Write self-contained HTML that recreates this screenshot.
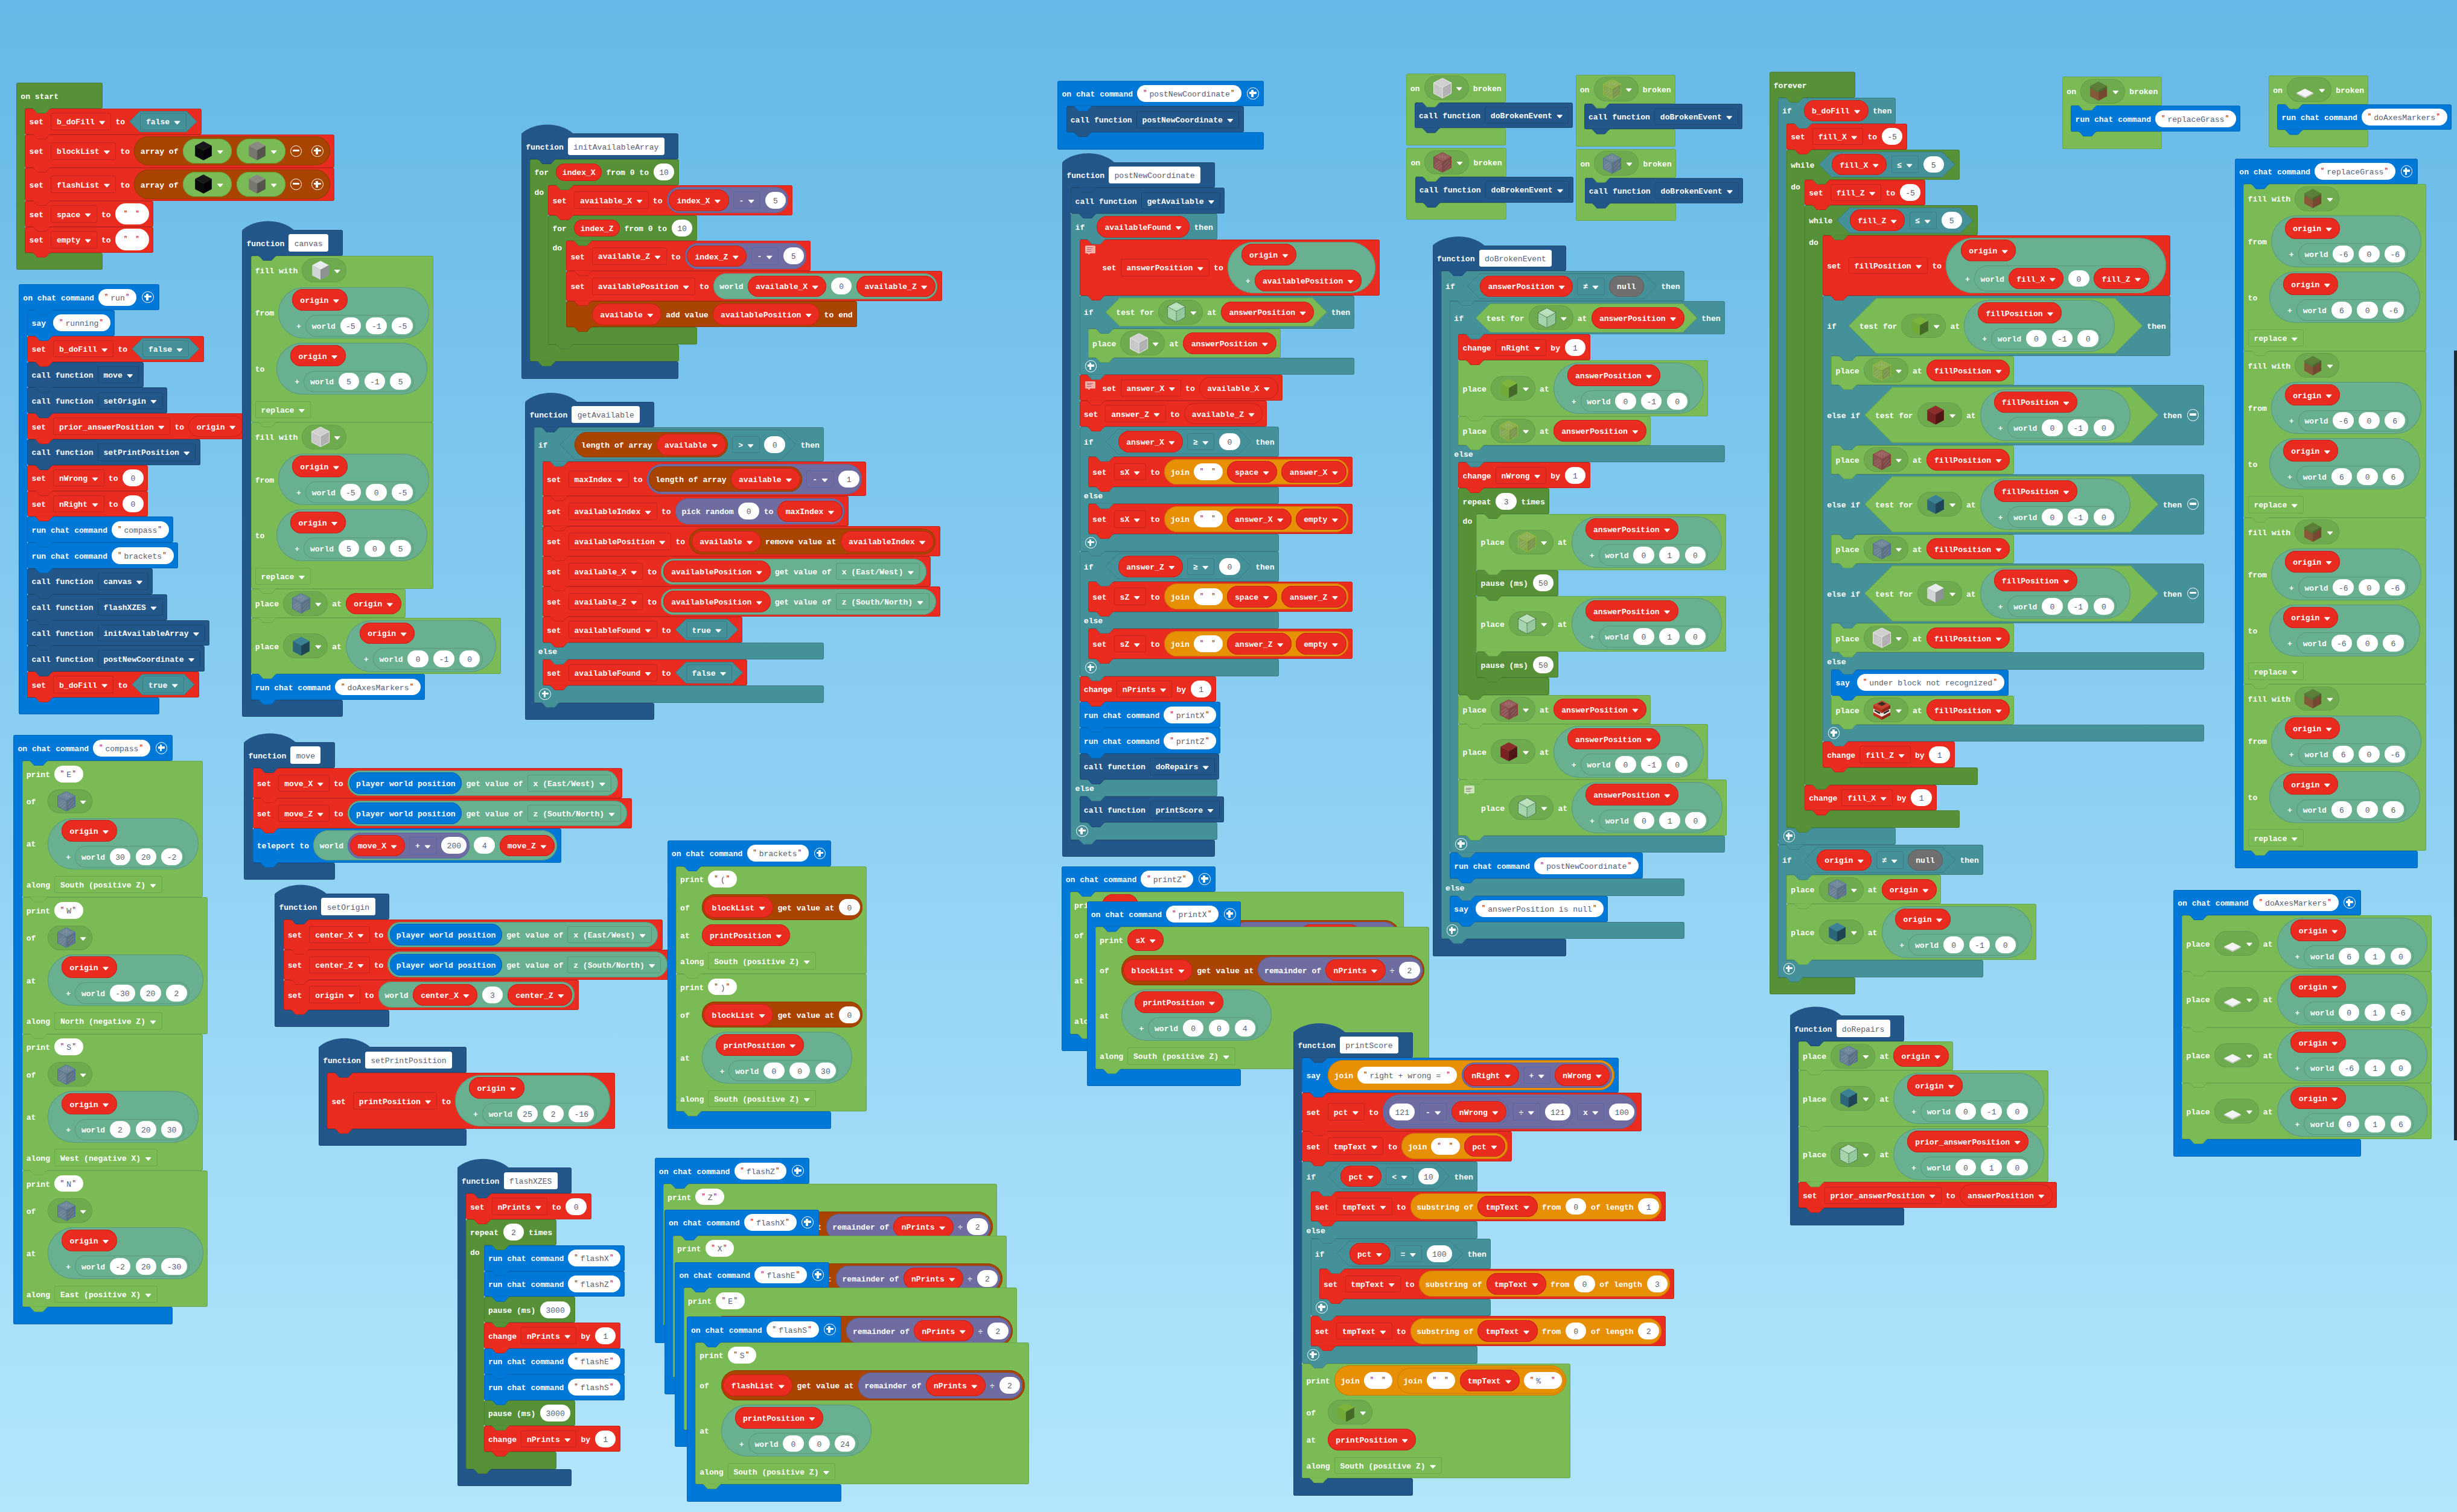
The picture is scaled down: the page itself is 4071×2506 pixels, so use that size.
<!DOCTYPE html><html><head><meta charset="utf-8"><title>MakeCode blocks</title><style>
*{box-sizing:border-box}
html,body{margin:0;padding:0}
#ws{position:relative;width:4071px;height:2506px;overflow:hidden;background:linear-gradient(#65b8e7,#b3e6fd);font:700 13.07px/1 "Liberation Mono",monospace;color:#fff}
.st{position:absolute;isolation:isolate}
.t{white-space:pre;display:block;flex:none;padding-top:3.2px}
.t.m{min-width:28.53px}
i{font-style:normal;display:block;flex:none}
span{flex:none}
/* colours */
.cv{--c:#ea2b1f;--d:#c4241a}
.cl{--c:#569138;--d:#4a7d30}
.cg{--c:#45919a;--d:#3b7c84}
.cp{--c:#0078d7;--d:#0067b9}
.cb{--c:#7abb55;--d:#69a549;--k:#6eaa4e}
.co{--c:#69b090;--d:#5a987c}
.cm{--c:#6e6ca0;--d:#5b66a2}
.ca{--c:#a94400;--d:#8f3a00}
.ct{--c:#e89005;--d:#c67b04}
.cf{--c:#235789;--d:#1d4a75}
/* statement block */
.b{position:relative;width:max-content;background:var(--c);border-radius:3.57px;box-shadow:inset 0 0 0 1px var(--d)}
.b::before,.nd,.c.nx::before{content:"";position:absolute;left:10.7px;top:100%;width:32.1px;height:8.13px;background:var(--d);clip-path:polygon(2.2px 0,31.2px 0,31.2px 1px,30.8px 1px,29.9px 1.3px,29.1px 2px,24.3px 7.3px,23.5px 7.9px,22.5px 8.13px,10.8px 8.13px,9.8px 7.9px,9px 7.3px,4.3px 2px,3.5px 1.3px,2.6px 1px,2.2px 1px);z-index:2}
.b::after,.nt,.c.nx::after{content:"";position:absolute;left:10.7px;top:100%;margin-top:-1px;width:32.1px;height:8.13px;background:var(--c);clip-path:polygon(2.2px 0,31.2px 0,31.2px 1px,30.8px 1px,29.9px 1.3px,29.1px 2px,24.3px 7.3px,23.5px 7.9px,22.5px 8.13px,10.8px 8.13px,9.8px 7.9px,9px 7.3px,4.3px 2px,3.5px 1.3px,2.6px 1px,2.2px 1px);z-index:2}
.r{display:flex;align-items:center;gap:7.13px;padding:3.57px 7.13px;min-height:42.8px;position:relative}
/* C blocks */
.c{position:relative;display:flex;flex-direction:column;width:max-content;min-width:142.67px}
.c>.r{background:var(--c);border-radius:3.57px;box-shadow:inset 0 0 0 1px var(--d)}
.c>.r.ns{align-self:flex-start}
.c>.r.e,.c>.r.f{min-height:28.53px;padding-top:0;padding-bottom:0}
.c>.r>.nt,.c>.r>.nd{left:24.97px}
.c>.ss{position:relative;margin-left:14.27px;width:0;min-height:21.4px;display:flex;flex-direction:column;align-items:flex-start}
.c>.ss::before{content:"";position:absolute;left:-14.27px;top:-4px;bottom:-4px;width:14.27px;background:var(--c);box-shadow:inset 1px 0 0 var(--d);z-index:1}
.c.do>.ss{margin-left:29.96px}
.c.do>.ss::before{left:-29.96px;width:29.96px}
.c.do>.r>.nt,.c.do>.r>.nd{left:40.66px}
.dl{position:absolute;left:-22.83px;top:6px}
.c.fn>.r.fnr{padding-right:23.6px}
.c.fn::before{content:"";position:absolute;left:0;top:-19.6px;width:85.6px;height:24px;background:var(--c);clip-path:path("M0 19.6c22.3-19.6 63.3-19.6 85.6 0V24H0z");z-index:1}
.fx{display:flex;align-items:center;height:28.53px;padding:3.2px 9.3px 0;background:#fff;border-radius:3.57px;color:#575e75;font-weight:400}
/* fields */
.a{width:10.7px;height:10.7px;background:#fff;clip-path:polygon(10% 28%,90% 28%,93.5% 30.5%,94% 35%,57% 78%,50% 81.5%,43% 78%,6% 35%,6.5% 30.5%)}
.dd{display:flex;align-items:center;height:28.53px;padding:3.2px 9.8px 0;gap:7.13px;border-radius:3.57px;box-shadow:inset 0 0 0 1px var(--d);white-space:pre}
.n{display:flex;align-items:center;justify-content:center;margin:0 .65px;min-width:34.4px;height:27.9px;padding:3.2px 9.3px 0;border-radius:99px;background:#fff;color:#575e75;font-weight:400;white-space:pre}
.q{display:flex;align-items:center;height:27.9px;padding:3.2px 13px 0 10.5px;border-radius:99px;background:#fff;color:#575e75;font-weight:400;white-space:pre}
.q>i{color:#b3282d;font-size:10px;width:4.5px;position:relative;top:-1.5px;left:-.5px;overflow:visible;font-weight:700}
.q>i:first-child{margin-right:5.25px}
.q>i:last-child{margin-left:2px}
.q.qb{height:35.67px;padding:3.2px 17.75px 0 14.75px}
.q>b{font-weight:400;display:block}
.g{display:flex;align-items:center;height:35.67px;padding:3.2px 13.3px 0;gap:7.13px;border-radius:99px;background:#ea2b1f;box-shadow:inset 0 0 0 1px #c4241a;white-space:pre}
.g.s{height:28.53px;padding:3.2px 10.7px 0}
.g.go{box-shadow:inset 0 0 0 1px #c4241a}
.p{display:flex;align-items:center;width:74px;height:40.9px;padding-left:14.1px;gap:6.7px;border-radius:99px;background:var(--k,#6eaa4e);box-shadow:inset 0 0 0 1px #659e47}
.p.sh{width:81.75px;padding-left:18px;background:#7abb55;box-shadow:inset 0 0 0 1px #69a549}
.cu{width:32.1px;height:32.1px;display:block;flex:none}
/* reporters */
.v{display:flex;align-items:center;gap:7.13px;min-height:35.67px;padding:0 10.7px;border-radius:99px;background:var(--c);box-shadow:inset 0 0 0 1px var(--d);white-space:pre}
.v:not(.nl):not(.pw){padding-top:3.57px!important;padding-bottom:3.57px!important}
.v.nl{--c:#6f6f6f;--d:#5e5e5e;padding:3.2px 13.3px 0}
.v.pw{padding:3.2px 10.7px 0}
.h{position:relative;isolation:isolate;display:flex;align-items:center;gap:7.13px;--h:35.67px;height:var(--h);background:var(--d);clip-path:polygon(calc(var(--h)/2) 0,calc(100% - var(--h)/2) 0,100% 50%,calc(100% - var(--h)/2) 100%,calc(var(--h)/2) 100%,0 50%)}
.h::before{content:"";position:absolute;inset:1px;z-index:-1;background:var(--c);clip-path:polygon(calc(var(--h)/2 - 1px) 0,calc(100% - var(--h)/2 + 1px) 0,100% 50%,calc(100% - var(--h)/2 + 1px) 100%,calc(var(--h)/2 - 1px) 100%,0 50%)}
.pa{display:flex;flex-direction:column;gap:7.13px;border-radius:99px;background:var(--c);box-shadow:inset 0 0 0 1px var(--d)}
.pr{display:flex;align-items:center;gap:7.13px}
.pr+.pr{margin-left:7px}
/* icons */
.pl{position:relative;width:19.6px;height:19.6px;margin:0 1.7px;border:1.9px solid #fff;border-radius:50%}
.pl::before{content:"";position:absolute;left:3.1px;right:3.1px;top:6.1px;height:3.6px;background:#fff;border-radius:1px}
.pl:not(.mi)::after{content:"";position:absolute;top:3.1px;bottom:3.1px;left:6.1px;width:3.6px;background:#fff;border-radius:1px}
.cmt{width:23.2px;height:16px;align-self:flex-start;margin-top:6.6px;position:relative}
.cmt::before{content:"";position:absolute;left:2px;top:0;width:17.5px;height:12.5px;border-radius:1.5px;background:linear-gradient(rgba(100,40,70,.55),rgba(100,40,70,.55)) 3.3px 3.2px/9.8px 1.2px no-repeat,linear-gradient(rgba(100,40,70,.55),rgba(100,40,70,.55)) 3.3px 5.8px/7.5px 1.2px no-repeat,linear-gradient(rgba(100,40,70,.55),rgba(100,40,70,.55)) 3.3px 8.3px/7.5px 1.2px no-repeat,rgba(255,255,255,.62)}
.cmt::after{content:"";position:absolute;left:6.2px;top:12.5px;width:4.4px;height:2.4px;background:rgba(255,255,255,.62);clip-path:polygon(0 0,100% 0,50% 100%)}
.dl{z-index:2}
.kblack{--t:#17171b;--l:#0a0a0e;--r:#020206}
.kgray{--t:#8b8a82;--l:#78776f;--r:#55544e}
.kwhite{--t:#e9ecec;--l:#d0d5d6;--r:#8d9293}
.kwglass{--t:#cfcfcf;--l:#c6c6c6;--r:#afadaf;--s:#ececec}
.kbgglass{--t:#71879a;--l:#6b7f92;--r:#5d7083;--s:#4b7596}
.kcyan{--t:#3b8197;--l:#2c667b;--r:#1f4454}
.klglass{--t:#8fb055;--l:#85a650;--r:#78964b;--s:#93c03c}
.klime{--t:#7db43c;--l:#70aa37;--r:#446928}
.kmint{--t:#b9dfbc;--l:#a3d3a9;--r:#90c79a;--s:#2e4d38;--da:1.6 1.2}
.krglass{--t:#98605f;--l:#8c5453;--r:#7d4948;--s:#923c3c}
.kred{--t:#8d2b2b;--l:#7a2121;--r:#501515}
#sb{position:absolute;left:4066.2px;top:581.2px;width:5px;height:1308.6px;background:#1f2b33}
.v>.pl{margin:0 .4px}
.v>.pl.mi+.pl{margin-left:8.1px}
.p>.a{margin-top:2.5px}
.c>.ss::after{content:"";position:absolute;left:0;top:0;bottom:0;width:4px;z-index:-1;background:linear-gradient(var(--c),var(--c)) top/100% 4px no-repeat,linear-gradient(var(--c),var(--c)) bottom/100% 4px no-repeat}
.kwglass,.kbgglass,.klglass,.krglass,.kmint{transform:scale(1.05);--ha:.3}
</style></head><body><div id="ws"><svg width="0" height="0" style="position:absolute"><symbol id="cb" viewBox="0 0 32 32"><path d="M16 .3 29.8 7.6 16 15 2.2 7.6z" style="fill:var(--t)"/><path d="M2.2 7.6 16 15v16.7L2.2 24.4z" style="fill:var(--l)"/><path d="M29.8 7.6 16 15v16.7l13.8-7.3z" style="fill:var(--r)"/><path d="M16 .3 29.8 7.6v16.8L16 31.7 2.2 24.4V7.6zM2.2 7.6 16 15l13.8-7.4M16 15v16.7" style="fill:none;stroke:var(--s,none);stroke-width:.9;stroke-dasharray:var(--da,none)"/><path d="M4 20l8-5.5M5 24l9-7M8 27.3l7-6.3M18 21l8-8M19 26l9-10M21.5 29l7-8M12 5.5v3M16 4v4.5M20 6.5v3" style="fill:none;stroke:#fff;stroke-width:.7;opacity:var(--ha,0)"/></symbol></svg>
<div class="st" style="left:27.2px;top:137.2px"><div class="c cl hat"><div class="r"><span class="t">on start</span><i class="nd"></i><i class="nt"></i></div><div class="ss"><div class="b cv"><div class="r"><span class="t m">set</span><span class="dd">b_doFill<i class="a"></i></span><span class="t">to</span><span class="h cg" style="padding:0 17.83px 0 17.83px"><span class="dd">false<i class="a"></i></span></span></div></div><div class="b cv"><div class="r"><span class="t m">set</span><span class="dd">blockList<i class="a"></i></span><span class="t">to</span><span class="v ca"><span class="t">array of</span><span class="p sh"><svg class="cu kblack"><use href="#cb"/></svg><i class="a"></i></span><span class="p sh"><svg class="cu kgray"><use href="#cb"/></svg><i class="a"></i></span><i class="pl mi"></i><i class="pl"></i></span></div></div><div class="b cv"><div class="r"><span class="t m">set</span><span class="dd">flashList<i class="a"></i></span><span class="t">to</span><span class="v ca"><span class="t">array of</span><span class="p sh"><svg class="cu kblack"><use href="#cb"/></svg><i class="a"></i></span><span class="p sh"><svg class="cu kgray"><use href="#cb"/></svg><i class="a"></i></span><i class="pl mi"></i><i class="pl"></i></span></div></div><div class="b cv"><div class="r"><span class="t m">set</span><span class="dd">space<i class="a"></i></span><span class="t">to</span><span class="q qb"><i>"</i><b> </b><i>"</i></span></div></div><div class="b cv"><div class="r"><span class="t m">set</span><span class="dd">empty<i class="a"></i></span><span class="t">to</span><span class="q qb"><i>"</i><b> </b><i>"</i></span></div></div></div><div class="r f"></div></div></div>
<div class="st" style="left:31.2px;top:471.2px"><div class="c cp hat"><div class="r"><span class="t">on chat command</span><span class="q"><i>"</i><b>run</b><i>"</i></span><i class="pl"></i><i class="nd"></i><i class="nt"></i></div><div class="ss"><div class="b cp"><div class="r"><span class="t m">say</span><span class="q"><i>"</i><b>running</b><i>"</i></span></div></div><div class="b cv"><div class="r"><span class="t m">set</span><span class="dd">b_doFill<i class="a"></i></span><span class="t">to</span><span class="h cg" style="padding:0 17.83px 0 17.83px"><span class="dd">false<i class="a"></i></span></span></div></div><div class="b cf"><div class="r"><span class="t m">call function</span><span class="dd">move<i class="a"></i></span></div></div><div class="b cf"><div class="r"><span class="t m">call function</span><span class="dd">setOrigin<i class="a"></i></span></div></div><div class="b cv"><div class="r"><span class="t m">set</span><span class="dd">prior_answerPosition<i class="a"></i></span><span class="t">to</span><span class="g go">origin<i class="a"></i></span></div></div><div class="b cf"><div class="r"><span class="t m">call function</span><span class="dd">setPrintPosition<i class="a"></i></span></div></div><div class="b cv"><div class="r"><span class="t m">set</span><span class="dd">nWrong<i class="a"></i></span><span class="t">to</span><span class="n">0</span></div></div><div class="b cv"><div class="r"><span class="t m">set</span><span class="dd">nRight<i class="a"></i></span><span class="t">to</span><span class="n">0</span></div></div><div class="b cp"><div class="r"><span class="t m">run chat command</span><span class="q"><i>"</i><b>compass</b><i>"</i></span></div></div><div class="b cp"><div class="r"><span class="t m">run chat command</span><span class="q"><i>"</i><b>brackets</b><i>"</i></span></div></div><div class="b cf"><div class="r"><span class="t m">call function</span><span class="dd">canvas<i class="a"></i></span></div></div><div class="b cf"><div class="r"><span class="t m">call function</span><span class="dd">flashXZES<i class="a"></i></span></div></div><div class="b cf"><div class="r"><span class="t m">call function</span><span class="dd">initAvailableArray<i class="a"></i></span></div></div><div class="b cf"><div class="r"><span class="t m">call function</span><span class="dd">postNewCoordinate<i class="a"></i></span></div></div><div class="b cv"><div class="r"><span class="t m">set</span><span class="dd">b_doFill<i class="a"></i></span><span class="t">to</span><span class="h cg" style="padding:0 17.83px 0 17.83px"><span class="dd">true<i class="a"></i></span></span></div></div></div><div class="r f"></div></div></div>
<div class="st" style="left:22.4px;top:1218.4px"><div class="c cp hat"><div class="r"><span class="t">on chat command</span><span class="q"><i>"</i><b>compass</b><i>"</i></span><i class="pl"></i><i class="nd"></i><i class="nt"></i></div><div class="ss"><div class="b cb"><div class="r"><span class="t m">print</span><span class="q"><i>"</i><b>E</b><i>"</i></span></div><div class="r"><span class="t m">of</span><span class="p"><svg class="cu kbgglass"><use href="#cb"/></svg><i class="a"></i></span></div><div class="r"><span class="t m">at</span><span class="pa co" style="padding:3.57px 22.81px"><span class="pr"><span class="g">origin<i class="a"></i></span></span><span class="pr"><span class="t">+</span><span class="v co" style="padding:0 3.57px 0 10.7px"><span class="t">world</span><span class="n">30</span><span class="n">20</span><span class="n">-2</span></span></span></span></div><div class="r"><span class="t m">along</span><span class="dd">South (positive Z)<i class="a"></i></span></div></div><div class="b cb"><div class="r"><span class="t m">print</span><span class="q"><i>"</i><b>W</b><i>"</i></span></div><div class="r"><span class="t m">of</span><span class="p"><svg class="cu kbgglass"><use href="#cb"/></svg><i class="a"></i></span></div><div class="r"><span class="t m">at</span><span class="pa co" style="padding:3.57px 22.81px"><span class="pr"><span class="g">origin<i class="a"></i></span></span><span class="pr"><span class="t">+</span><span class="v co" style="padding:0 3.57px 0 10.7px"><span class="t">world</span><span class="n">-30</span><span class="n">20</span><span class="n">2</span></span></span></span></div><div class="r"><span class="t m">along</span><span class="dd">North (negative Z)<i class="a"></i></span></div></div><div class="b cb"><div class="r"><span class="t m">print</span><span class="q"><i>"</i><b>S</b><i>"</i></span></div><div class="r"><span class="t m">of</span><span class="p"><svg class="cu kbgglass"><use href="#cb"/></svg><i class="a"></i></span></div><div class="r"><span class="t m">at</span><span class="pa co" style="padding:3.57px 22.81px"><span class="pr"><span class="g">origin<i class="a"></i></span></span><span class="pr"><span class="t">+</span><span class="v co" style="padding:0 3.57px 0 10.7px"><span class="t">world</span><span class="n">2</span><span class="n">20</span><span class="n">30</span></span></span></span></div><div class="r"><span class="t m">along</span><span class="dd">West (negative X)<i class="a"></i></span></div></div><div class="b cb"><div class="r"><span class="t m">print</span><span class="q"><i>"</i><b>N</b><i>"</i></span></div><div class="r"><span class="t m">of</span><span class="p"><svg class="cu kbgglass"><use href="#cb"/></svg><i class="a"></i></span></div><div class="r"><span class="t m">at</span><span class="pa co" style="padding:3.57px 22.81px"><span class="pr"><span class="g">origin<i class="a"></i></span></span><span class="pr"><span class="t">+</span><span class="v co" style="padding:0 3.57px 0 10.7px"><span class="t">world</span><span class="n">-2</span><span class="n">20</span><span class="n">-30</span></span></span></span></div><div class="r"><span class="t m">along</span><span class="dd">East (positive X)<i class="a"></i></span></div></div></div><div class="r f"></div></div></div>
<div class="st" style="left:401.4px;top:381.2px"><div class="c cf hat fn"><div class="r fnr"><span class="t">function</span><span class="fx">canvas</span><i class="nd"></i><i class="nt"></i></div><div class="ss"><div class="b cb"><div class="r"><span class="t m">fill with</span><span class="p"><svg class="cu kwhite"><use href="#cb"/></svg><i class="a"></i></span></div><div class="r"><span class="t m">from</span><span class="pa co" style="padding:3.57px 22.81px"><span class="pr"><span class="g">origin<i class="a"></i></span></span><span class="pr"><span class="t">+</span><span class="v co" style="padding:0 3.57px 0 10.7px"><span class="t">world</span><span class="n">-5</span><span class="n">-1</span><span class="n">-5</span></span></span></span></div><div class="r"><span class="t m">to</span><span class="pa co" style="padding:3.57px 22.81px"><span class="pr"><span class="g">origin<i class="a"></i></span></span><span class="pr"><span class="t">+</span><span class="v co" style="padding:0 3.57px 0 10.7px"><span class="t">world</span><span class="n">5</span><span class="n">-1</span><span class="n">5</span></span></span></span></div><div class="r"><span class="dd">replace<i class="a"></i></span></div></div><div class="b cb"><div class="r"><span class="t m">fill with</span><span class="p"><svg class="cu kwglass"><use href="#cb"/></svg><i class="a"></i></span></div><div class="r"><span class="t m">from</span><span class="pa co" style="padding:3.57px 22.81px"><span class="pr"><span class="g">origin<i class="a"></i></span></span><span class="pr"><span class="t">+</span><span class="v co" style="padding:0 3.57px 0 10.7px"><span class="t">world</span><span class="n">-5</span><span class="n">0</span><span class="n">-5</span></span></span></span></div><div class="r"><span class="t m">to</span><span class="pa co" style="padding:3.57px 22.81px"><span class="pr"><span class="g">origin<i class="a"></i></span></span><span class="pr"><span class="t">+</span><span class="v co" style="padding:0 3.57px 0 10.7px"><span class="t">world</span><span class="n">5</span><span class="n">0</span><span class="n">5</span></span></span></span></div><div class="r"><span class="dd">replace<i class="a"></i></span></div></div><div class="b cb"><div class="r"><span class="t m">place</span><span class="p"><svg class="cu kbgglass"><use href="#cb"/></svg><i class="a"></i></span><span class="t">at</span><span class="g">origin<i class="a"></i></span></div></div><div class="b cb"><div class="r"><span class="t m">place</span><span class="p"><svg class="cu kcyan"><use href="#cb"/></svg><i class="a"></i></span><span class="t">at</span><span class="pa co" style="padding:3.57px 22.81px"><span class="pr"><span class="g">origin<i class="a"></i></span></span><span class="pr"><span class="t">+</span><span class="v co" style="padding:0 3.57px 0 10.7px"><span class="t">world</span><span class="n">0</span><span class="n">-1</span><span class="n">0</span></span></span></span></div></div><div class="b cp"><div class="r"><span class="t m">run chat command</span><span class="q"><i>"</i><b>doAxesMarkers</b><i>"</i></span></div></div></div><div class="r f"></div></div></div>
<div class="st" style="left:404.4px;top:1230.3px"><div class="c cf hat fn"><div class="r fnr"><span class="t">function</span><span class="fx">move</span><i class="nd"></i><i class="nt"></i></div><div class="ss"><div class="b cv"><div class="r"><span class="t m">set</span><span class="dd">move_X<i class="a"></i></span><span class="t">to</span><span class="v co" style="padding:0 10.7px 0 3.57px"><span class="v cp pw">player world position</span><span class="t">get value of</span><span class="dd">x (East/West)<i class="a"></i></span></span></div></div><div class="b cv"><div class="r"><span class="t m">set</span><span class="dd">move_Z<i class="a"></i></span><span class="t">to</span><span class="v co" style="padding:0 10.7px 0 3.57px"><span class="v cp pw">player world position</span><span class="t">get value of</span><span class="dd">z (South/North)<i class="a"></i></span></span></div></div><div class="b cp"><div class="r"><span class="t m">teleport to</span><span class="v co" style="padding:0 3.57px 0 10.7px"><span class="t">world</span><span class="v cm" style="padding:0 3.57px 0 3.57px"><span class="g">move_X<i class="a"></i></span><span class="dd">+<i class="a"></i></span><span class="n">200</span></span><span class="n">4</span><span class="g">move_Z<i class="a"></i></span></span></div></div></div><div class="r f"></div></div></div>
<div class="st" style="left:455.4px;top:1481.2px"><div class="c cf hat fn"><div class="r fnr"><span class="t">function</span><span class="fx">setOrigin</span><i class="nd"></i><i class="nt"></i></div><div class="ss"><div class="b cv"><div class="r"><span class="t m">set</span><span class="dd">center_X<i class="a"></i></span><span class="t">to</span><span class="v co" style="padding:0 10.7px 0 3.57px"><span class="v cp pw">player world position</span><span class="t">get value of</span><span class="dd">x (East/West)<i class="a"></i></span></span></div></div><div class="b cv"><div class="r"><span class="t m">set</span><span class="dd">center_Z<i class="a"></i></span><span class="t">to</span><span class="v co" style="padding:0 10.7px 0 3.57px"><span class="v cp pw">player world position</span><span class="t">get value of</span><span class="dd">z (South/North)<i class="a"></i></span></span></div></div><div class="b cv"><div class="r"><span class="t m">set</span><span class="dd">origin<i class="a"></i></span><span class="t">to</span><span class="v co" style="padding:0 3.57px 0 10.7px"><span class="t">world</span><span class="g">center_X<i class="a"></i></span><span class="n">3</span><span class="g">center_Z<i class="a"></i></span></span></div></div></div><div class="r f"></div></div></div>
<div class="st" style="left:528px;top:1735.4px"><div class="c cf hat fn"><div class="r fnr"><span class="t">function</span><span class="fx">setPrintPosition</span><i class="nd"></i><i class="nt"></i></div><div class="ss"><div class="b cv"><div class="r"><span class="t m">set</span><span class="dd">printPosition<i class="a"></i></span><span class="t">to</span><span class="pa co" style="padding:3.57px 22.81px"><span class="pr"><span class="g">origin<i class="a"></i></span></span><span class="pr"><span class="t">+</span><span class="v co" style="padding:0 3.57px 0 10.7px"><span class="t">world</span><span class="n">25</span><span class="n">2</span><span class="n">-16</span></span></span></span></div></div></div><div class="r f"></div></div></div>
<div class="st" style="left:864.1px;top:221.2px"><div class="c cf hat fn"><div class="r fnr"><span class="t">function</span><span class="fx">initAvailableArray</span><i class="nd"></i><i class="nt"></i></div><div class="ss"><div class="c cl do nx"><div class="r"><span class="t m">for</span><span class="g s">index_X</span><span class="t">from 0 to</span><span class="n">10</span><i class="nd"></i><i class="nt"></i></div><div class="ss"><span class="dl">do</span><div class="b cv"><div class="r"><span class="t m">set</span><span class="dd">available_X<i class="a"></i></span><span class="t">to</span><span class="v cm" style="padding:0 3.57px 0 3.57px"><span class="g">index_X<i class="a"></i></span><span class="dd">-<i class="a"></i></span><span class="n">5</span></span></div></div><div class="c cl do nx"><div class="r"><span class="t m">for</span><span class="g s">index_Z</span><span class="t">from 0 to</span><span class="n">10</span><i class="nd"></i><i class="nt"></i></div><div class="ss"><span class="dl">do</span><div class="b cv"><div class="r"><span class="t m">set</span><span class="dd">available_Z<i class="a"></i></span><span class="t">to</span><span class="v cm" style="padding:0 3.57px 0 3.57px"><span class="g">index_Z<i class="a"></i></span><span class="dd">-<i class="a"></i></span><span class="n">5</span></span></div></div><div class="b cv"><div class="r"><span class="t m">set</span><span class="dd">availablePosition<i class="a"></i></span><span class="t">to</span><span class="v co" style="padding:0 3.57px 0 10.7px"><span class="t">world</span><span class="g">available_X<i class="a"></i></span><span class="n">0</span><span class="g">available_Z<i class="a"></i></span></span></div></div><div class="b ca"><div class="r"><span class="t m"></span><span class="g">available<i class="a"></i></span><span class="t">add value</span><span class="g">availablePosition<i class="a"></i></span><span class="t">to end</span></div></div></div><div class="r f"></div></div></div><div class="r f"></div></div></div><div class="r f"></div></div></div>
<div class="st" style="left:870.4px;top:665.6px"><div class="c cf hat fn"><div class="r fnr"><span class="t">function</span><span class="fx">getAvailable</span><i class="nd"></i><i class="nt"></i></div><div class="ss"><div class="c cg nx"><div class="r"><span class="t m">if</span><span class="h cg" style="--h:49.93px;padding:0 17.83px 0 24.97px"><span class="v ca" style="padding:0 3.57px 0 10.7px"><span class="t">length of array</span><span class="g">available<i class="a"></i></span></span><span class="dd">&gt;<i class="a"></i></span><span class="n">0</span></span><span class="t">then</span><i class="nd"></i><i class="nt"></i></div><div class="ss"><div class="b cv"><div class="r"><span class="t m">set</span><span class="dd">maxIndex<i class="a"></i></span><span class="t">to</span><span class="v cm" style="padding:0 3.57px 0 3.57px"><span class="v ca" style="padding:0 3.57px 0 10.7px"><span class="t">length of array</span><span class="g">available<i class="a"></i></span></span><span class="dd">-<i class="a"></i></span><span class="n">1</span></span></div></div><div class="b cv"><div class="r"><span class="t m">set</span><span class="dd">availableIndex<i class="a"></i></span><span class="t">to</span><span class="v cm" style="padding:0 3.57px 0 10.7px"><span class="t">pick random</span><span class="n">0</span><span class="t">to</span><span class="g">maxIndex<i class="a"></i></span></span></div></div><div class="b cv"><div class="r"><span class="t m">set</span><span class="dd">availablePosition<i class="a"></i></span><span class="t">to</span><span class="v ca" style="padding:0 3.57px 0 3.57px"><span class="g">available<i class="a"></i></span><span class="t">remove value at</span><span class="g">availableIndex<i class="a"></i></span></span></div></div><div class="b cv"><div class="r"><span class="t m">set</span><span class="dd">available_X<i class="a"></i></span><span class="t">to</span><span class="v co" style="padding:0 10.7px 0 3.57px"><span class="g">availablePosition<i class="a"></i></span><span class="t">get value of</span><span class="dd">x (East/West)<i class="a"></i></span></span></div></div><div class="b cv"><div class="r"><span class="t m">set</span><span class="dd">available_Z<i class="a"></i></span><span class="t">to</span><span class="v co" style="padding:0 10.7px 0 3.57px"><span class="g">availablePosition<i class="a"></i></span><span class="t">get value of</span><span class="dd">z (South/North)<i class="a"></i></span></span></div></div><div class="b cv"><div class="r"><span class="t m">set</span><span class="dd">availableFound<i class="a"></i></span><span class="t">to</span><span class="h cg" style="padding:0 17.83px 0 17.83px"><span class="dd">true<i class="a"></i></span></span></div></div></div><div class="r e"><span class="t">else</span><i class="nd"></i><i class="nt"></i></div><div class="ss"><div class="b cv"><div class="r"><span class="t m">set</span><span class="dd">availableFound<i class="a"></i></span><span class="t">to</span><span class="h cg" style="padding:0 17.83px 0 17.83px"><span class="dd">false<i class="a"></i></span></span></div></div></div><div class="r f"><i class="pl"></i></div></div></div><div class="r f"></div></div></div>
<div class="st" style="left:757.6px;top:1935.4px"><div class="c cf hat fn"><div class="r fnr"><span class="t">function</span><span class="fx">flashXZES</span><i class="nd"></i><i class="nt"></i></div><div class="ss"><div class="b cv"><div class="r"><span class="t m">set</span><span class="dd">nPrints<i class="a"></i></span><span class="t">to</span><span class="n">0</span></div></div><div class="c cl do nx"><div class="r"><span class="t m">repeat</span><span class="n">2</span><span class="t">times</span><i class="nd"></i><i class="nt"></i></div><div class="ss"><span class="dl">do</span><div class="b cp"><div class="r"><span class="t m">run chat command</span><span class="q"><i>"</i><b>flashX</b><i>"</i></span></div></div><div class="b cp"><div class="r"><span class="t m">run chat command</span><span class="q"><i>"</i><b>flashZ</b><i>"</i></span></div></div><div class="b cl"><div class="r"><span class="t m">pause (ms)</span><span class="n">3000</span></div></div><div class="b cv"><div class="r"><span class="t m">change</span><span class="dd">nPrints<i class="a"></i></span><span class="t">by</span><span class="n">1</span></div></div><div class="b cp"><div class="r"><span class="t m">run chat command</span><span class="q"><i>"</i><b>flashE</b><i>"</i></span></div></div><div class="b cp"><div class="r"><span class="t m">run chat command</span><span class="q"><i>"</i><b>flashS</b><i>"</i></span></div></div><div class="b cl"><div class="r"><span class="t m">pause (ms)</span><span class="n">3000</span></div></div><div class="b cv"><div class="r"><span class="t m">change</span><span class="dd">nPrints<i class="a"></i></span><span class="t">by</span><span class="n">1</span></div></div></div><div class="r f"></div></div></div><div class="r f"></div></div></div>
<div class="st" style="left:1105.7px;top:1393px"><div class="c cp hat"><div class="r"><span class="t">on chat command</span><span class="q"><i>"</i><b>brackets</b><i>"</i></span><i class="pl"></i><i class="nd"></i><i class="nt"></i></div><div class="ss"><div class="b cb"><div class="r"><span class="t m">print</span><span class="q"><i>"</i><b>(</b><i>"</i></span></div><div class="r"><span class="t m">of</span><span class="v ca" style="padding:0 3.57px 0 3.57px"><span class="g">blockList<i class="a"></i></span><span class="t">get value at</span><span class="n">0</span></span></div><div class="r"><span class="t m">at</span><span class="g">printPosition<i class="a"></i></span></div><div class="r"><span class="t m">along</span><span class="dd">South (positive Z)<i class="a"></i></span></div></div><div class="b cb"><div class="r"><span class="t m">print</span><span class="q"><i>"</i><b>)</b><i>"</i></span></div><div class="r"><span class="t m">of</span><span class="v ca" style="padding:0 3.57px 0 3.57px"><span class="g">blockList<i class="a"></i></span><span class="t">get value at</span><span class="n">0</span></span></div><div class="r"><span class="t m">at</span><span class="pa co" style="padding:3.57px 22.81px"><span class="pr"><span class="g">printPosition<i class="a"></i></span></span><span class="pr"><span class="t">+</span><span class="v co" style="padding:0 3.57px 0 10.7px"><span class="t">world</span><span class="n">0</span><span class="n">0</span><span class="n">30</span></span></span></span></div><div class="r"><span class="t m">along</span><span class="dd">South (positive Z)<i class="a"></i></span></div></div></div><div class="r f"></div></div></div>
<div class="st" style="left:1084.7px;top:1919.3px"><div class="c cp hat"><div class="r"><span class="t">on chat command</span><span class="q"><i>"</i><b>flashZ</b><i>"</i></span><i class="pl"></i><i class="nd"></i><i class="nt"></i></div><div class="ss"><div class="b cb"><div class="r"><span class="t m">print</span><span class="q"><i>"</i><b>Z</b><i>"</i></span></div><div class="r"><span class="t m">of</span><span class="v ca" style="padding:0 3.57px 0 3.57px"><span class="g">flashList<i class="a"></i></span><span class="t">get value at</span><span class="v cm" style="padding:0 3.57px 0 10.7px"><span class="t">remainder of</span><span class="g">nPrints<i class="a"></i></span><span class="t">÷</span><span class="n">2</span></span></span></div><div class="r"><span class="t m">at</span><span class="pa co" style="padding:3.57px 22.81px"><span class="pr"><span class="g">printPosition<i class="a"></i></span></span><span class="pr"><span class="t">+</span><span class="v co" style="padding:0 3.57px 0 10.7px"><span class="t">world</span><span class="n">0</span><span class="n">0</span><span class="n">4</span></span></span></span></div><div class="r"><span class="t m">along</span><span class="dd">South (positive Z)<i class="a"></i></span></div></div></div><div class="r f"></div></div></div>
<div class="st" style="left:1100.9px;top:2004.8px"><div class="c cp hat"><div class="r"><span class="t">on chat command</span><span class="q"><i>"</i><b>flashX</b><i>"</i></span><i class="pl"></i><i class="nd"></i><i class="nt"></i></div><div class="ss"><div class="b cb"><div class="r"><span class="t m">print</span><span class="q"><i>"</i><b>X</b><i>"</i></span></div><div class="r"><span class="t m">of</span><span class="v ca" style="padding:0 3.57px 0 3.57px"><span class="g">flashList<i class="a"></i></span><span class="t">get value at</span><span class="v cm" style="padding:0 3.57px 0 10.7px"><span class="t">remainder of</span><span class="g">nPrints<i class="a"></i></span><span class="t">÷</span><span class="n">2</span></span></span></div><div class="r"><span class="t m">at</span><span class="pa co" style="padding:3.57px 22.81px"><span class="pr"><span class="g">printPosition<i class="a"></i></span></span><span class="pr"><span class="t">+</span><span class="v co" style="padding:0 3.57px 0 10.7px"><span class="t">world</span><span class="n">0</span><span class="n">0</span><span class="n">4</span></span></span></span></div><div class="r"><span class="t m">along</span><span class="dd">South (positive Z)<i class="a"></i></span></div></div></div><div class="r f"></div></div></div>
<div class="st" style="left:1118.4px;top:2091.5px"><div class="c cp hat"><div class="r"><span class="t">on chat command</span><span class="q"><i>"</i><b>flashE</b><i>"</i></span><i class="pl"></i><i class="nd"></i><i class="nt"></i></div><div class="ss"><div class="b cb"><div class="r"><span class="t m">print</span><span class="q"><i>"</i><b>E</b><i>"</i></span></div><div class="r"><span class="t m">of</span><span class="v ca" style="padding:0 3.57px 0 3.57px"><span class="g">flashList<i class="a"></i></span><span class="t">get value at</span><span class="v cm" style="padding:0 3.57px 0 10.7px"><span class="t">remainder of</span><span class="g">nPrints<i class="a"></i></span><span class="t">÷</span><span class="n">2</span></span></span></div><div class="r"><span class="t m">at</span><span class="pa co" style="padding:3.57px 22.81px"><span class="pr"><span class="g">printPosition<i class="a"></i></span></span><span class="pr"><span class="t">+</span><span class="v co" style="padding:0 3.57px 0 10.7px"><span class="t">world</span><span class="n">0</span><span class="n">0</span><span class="n">24</span></span></span></span></div><div class="r"><span class="t m">along</span><span class="dd">South (positive Z)<i class="a"></i></span></div></div></div><div class="r f"></div></div></div>
<div class="st" style="left:1137.9px;top:2182.1px"><div class="c cp hat"><div class="r"><span class="t">on chat command</span><span class="q"><i>"</i><b>flashS</b><i>"</i></span><i class="pl"></i><i class="nd"></i><i class="nt"></i></div><div class="ss"><div class="b cb"><div class="r"><span class="t m">print</span><span class="q"><i>"</i><b>S</b><i>"</i></span></div><div class="r"><span class="t m">of</span><span class="v ca" style="padding:0 3.57px 0 3.57px"><span class="g">flashList<i class="a"></i></span><span class="t">get value at</span><span class="v cm" style="padding:0 3.57px 0 10.7px"><span class="t">remainder of</span><span class="g">nPrints<i class="a"></i></span><span class="t">÷</span><span class="n">2</span></span></span></div><div class="r"><span class="t m">at</span><span class="pa co" style="padding:3.57px 22.81px"><span class="pr"><span class="g">printPosition<i class="a"></i></span></span><span class="pr"><span class="t">+</span><span class="v co" style="padding:0 3.57px 0 10.7px"><span class="t">world</span><span class="n">0</span><span class="n">0</span><span class="n">24</span></span></span></span></div><div class="r"><span class="t m">along</span><span class="dd">South (positive Z)<i class="a"></i></span></div></div></div><div class="r f"></div></div></div>
<div class="st" style="left:1752.4px;top:133.6px"><div class="c cp hat"><div class="r"><span class="t">on chat command</span><span class="q"><i>"</i><b>postNewCoordinate</b><i>"</i></span><i class="pl"></i><i class="nd"></i><i class="nt"></i></div><div class="ss"><div class="b cf"><div class="r"><span class="t m">call function</span><span class="dd">postNewCoordinate<i class="a"></i></span></div></div></div><div class="r f"></div></div></div>
<div class="st" style="left:1760.2px;top:268.7px"><div class="c cf hat fn"><div class="r fnr"><span class="t">function</span><span class="fx">postNewCoordinate</span><i class="nd"></i><i class="nt"></i></div><div class="ss"><div class="b cf"><div class="r"><span class="t m">call function</span><span class="dd">getAvailable<i class="a"></i></span></div></div><div class="c cg nx"><div class="r"><span class="t m">if</span><span class="g">availableFound<i class="a"></i></span><span class="t">then</span><i class="nd"></i><i class="nt"></i></div><div class="ss"><div class="b cv"><div class="r"><i class="cmt"></i><span class="t">set</span><span class="dd">answerPosition<i class="a"></i></span><span class="t">to</span><span class="pa co" style="padding:3.57px 22.81px"><span class="pr"><span class="g">origin<i class="a"></i></span></span><span class="pr"><span class="t">+</span><span class="g">availablePosition<i class="a"></i></span></span></span></div></div><div class="c cg nx"><div class="r"><span class="t m">if</span><span class="h cb" style="--h:48.03px;padding:0 21.4px 0 17.83px"><span class="t">test for</span><span class="p"><svg class="cu kmint"><use href="#cb"/></svg><i class="a"></i></span><span class="t">at</span><span class="g">answerPosition<i class="a"></i></span></span><span class="t">then</span><i class="nd"></i><i class="nt"></i></div><div class="ss"><div class="b cb"><div class="r"><span class="t m">place</span><span class="p"><svg class="cu kwglass"><use href="#cb"/></svg><i class="a"></i></span><span class="t">at</span><span class="g">answerPosition<i class="a"></i></span></div></div></div><div class="r f"><i class="pl"></i></div></div><div class="b cv"><div class="r"><i class="cmt"></i><span class="t">set</span><span class="dd">answer_X<i class="a"></i></span><span class="t">to</span><span class="g go">available_X<i class="a"></i></span></div></div><div class="b cv"><div class="r"><span class="t m">set</span><span class="dd">answer_Z<i class="a"></i></span><span class="t">to</span><span class="g go">available_Z<i class="a"></i></span></div></div><div class="c cg nx"><div class="r"><span class="t m">if</span><span class="h cg" style="--h:42.8px;padding:0 17.83px 0 21.4px"><span class="g">answer_X<i class="a"></i></span><span class="dd">≥<i class="a"></i></span><span class="n">0</span></span><span class="t">then</span><i class="nd"></i><i class="nt"></i></div><div class="ss"><div class="b cv"><div class="r"><span class="t m">set</span><span class="dd">sX<i class="a"></i></span><span class="t">to</span><span class="v ct" style="padding:0 3.57px 0 10.7px"><span class="t">join</span><span class="q"><i>"</i><b> </b><i>"</i></span><span class="g">space<i class="a"></i></span><span class="g">answer_X<i class="a"></i></span></span></div></div></div><div class="r e"><span class="t">else</span><i class="nd"></i><i class="nt"></i></div><div class="ss"><div class="b cv"><div class="r"><span class="t m">set</span><span class="dd">sX<i class="a"></i></span><span class="t">to</span><span class="v ct" style="padding:0 3.57px 0 10.7px"><span class="t">join</span><span class="q"><i>"</i><b> </b><i>"</i></span><span class="g">answer_X<i class="a"></i></span><span class="g">empty<i class="a"></i></span></span></div></div></div><div class="r f"><i class="pl"></i></div></div><div class="c cg nx"><div class="r"><span class="t m">if</span><span class="h cg" style="--h:42.8px;padding:0 17.83px 0 21.4px"><span class="g">answer_Z<i class="a"></i></span><span class="dd">≥<i class="a"></i></span><span class="n">0</span></span><span class="t">then</span><i class="nd"></i><i class="nt"></i></div><div class="ss"><div class="b cv"><div class="r"><span class="t m">set</span><span class="dd">sZ<i class="a"></i></span><span class="t">to</span><span class="v ct" style="padding:0 3.57px 0 10.7px"><span class="t">join</span><span class="q"><i>"</i><b> </b><i>"</i></span><span class="g">space<i class="a"></i></span><span class="g">answer_Z<i class="a"></i></span></span></div></div></div><div class="r e"><span class="t">else</span><i class="nd"></i><i class="nt"></i></div><div class="ss"><div class="b cv"><div class="r"><span class="t m">set</span><span class="dd">sZ<i class="a"></i></span><span class="t">to</span><span class="v ct" style="padding:0 3.57px 0 10.7px"><span class="t">join</span><span class="q"><i>"</i><b> </b><i>"</i></span><span class="g">answer_Z<i class="a"></i></span><span class="g">empty<i class="a"></i></span></span></div></div></div><div class="r f"><i class="pl"></i></div></div><div class="b cv"><div class="r"><span class="t m">change</span><span class="dd">nPrints<i class="a"></i></span><span class="t">by</span><span class="n">1</span></div></div><div class="b cp"><div class="r"><span class="t m">run chat command</span><span class="q"><i>"</i><b>printX</b><i>"</i></span></div></div><div class="b cp"><div class="r"><span class="t m">run chat command</span><span class="q"><i>"</i><b>printZ</b><i>"</i></span></div></div><div class="b cf"><div class="r"><span class="t m">call function</span><span class="dd">doRepairs<i class="a"></i></span></div></div></div><div class="r e"><span class="t">else</span><i class="nd"></i><i class="nt"></i></div><div class="ss"><div class="b cf"><div class="r"><span class="t m">call function</span><span class="dd">printScore<i class="a"></i></span></div></div></div><div class="r f"><i class="pl"></i></div></div></div><div class="r f"></div></div></div>
<div class="st" style="left:1758.6px;top:1435.5px"><div class="c cp hat"><div class="r"><span class="t">on chat command</span><span class="q"><i>"</i><b>printZ</b><i>"</i></span><i class="pl"></i><i class="nd"></i><i class="nt"></i></div><div class="ss"><div class="b cb"><div class="r"><span class="t m">print</span><span class="g">sZ<i class="a"></i></span></div><div class="r"><span class="t m">of</span><span class="v ca" style="padding:0 3.57px 0 3.57px"><span class="g">blockList<i class="a"></i></span><span class="t">get value at</span><span class="v cm" style="padding:0 3.57px 0 10.7px"><span class="t">remainder of</span><span class="g">nPrints<i class="a"></i></span><span class="t">÷</span><span class="n">2</span></span></span></div><div class="r"><span class="t m">at</span><span class="pa co" style="padding:3.57px 22.81px"><span class="pr"><span class="g">printPosition<i class="a"></i></span></span><span class="pr"><span class="t">+</span><span class="v co" style="padding:0 3.57px 0 10.7px"><span class="t">world</span><span class="n">0</span><span class="n">0</span><span class="n">4</span></span></span></span></div><div class="r"><span class="t m">along</span><span class="dd">South (positive Z)<i class="a"></i></span></div></div></div><div class="r f"></div></div></div>
<div class="st" style="left:1800.5px;top:1493.6px"><div class="c cp hat"><div class="r"><span class="t">on chat command</span><span class="q"><i>"</i><b>printX</b><i>"</i></span><i class="pl"></i><i class="nd"></i><i class="nt"></i></div><div class="ss"><div class="b cb"><div class="r"><span class="t m">print</span><span class="g">sX<i class="a"></i></span></div><div class="r"><span class="t m">of</span><span class="v ca" style="padding:0 3.57px 0 3.57px"><span class="g">blockList<i class="a"></i></span><span class="t">get value at</span><span class="v cm" style="padding:0 3.57px 0 10.7px"><span class="t">remainder of</span><span class="g">nPrints<i class="a"></i></span><span class="t">÷</span><span class="n">2</span></span></span></div><div class="r"><span class="t m">at</span><span class="pa co" style="padding:3.57px 22.81px"><span class="pr"><span class="g">printPosition<i class="a"></i></span></span><span class="pr"><span class="t">+</span><span class="v co" style="padding:0 3.57px 0 10.7px"><span class="t">world</span><span class="n">0</span><span class="n">0</span><span class="n">4</span></span></span></span></div><div class="r"><span class="t m">along</span><span class="dd">South (positive Z)<i class="a"></i></span></div></div></div><div class="r f"></div></div></div>
<div class="st" style="left:2143px;top:1710.7px"><div class="c cf hat fn"><div class="r fnr"><span class="t">function</span><span class="fx">printScore</span><i class="nd"></i><i class="nt"></i></div><div class="ss"><div class="b cp"><div class="r"><span class="t m">say</span><span class="v ct" style="padding:0 3.57px 0 10.7px"><span class="t">join</span><span class="q"><i>"</i><b>right + wrong = </b><i>"</i></span><span class="v cm" style="padding:0 3.57px 0 3.57px"><span class="g">nRight<i class="a"></i></span><span class="dd">+<i class="a"></i></span><span class="g">nWrong<i class="a"></i></span></span></span></div></div><div class="b cv"><div class="r"><span class="t m">set</span><span class="dd">pct<i class="a"></i></span><span class="t">to</span><span class="v cm" style="padding:0 3.57px 0 3.57px"><span class="v cm" style="padding:0 3.57px 0 3.57px"><span class="v cm" style="padding:0 3.57px 0 3.57px"><span class="n">121</span><span class="dd">-<i class="a"></i></span><span class="g">nWrong<i class="a"></i></span></span><span class="dd">÷<i class="a"></i></span><span class="n">121</span></span><span class="dd">x<i class="a"></i></span><span class="n">100</span></span></div></div><div class="b cv"><div class="r"><span class="t m">set</span><span class="dd">tmpText<i class="a"></i></span><span class="t">to</span><span class="v ct" style="padding:0 3.57px 0 10.7px"><span class="t">join</span><span class="q"><i>"</i><b> </b><i>"</i></span><span class="g">pct<i class="a"></i></span></span></div></div><div class="c cg nx"><div class="r"><span class="t m">if</span><span class="h cg" style="--h:42.8px;padding:0 17.83px 0 21.4px"><span class="g">pct<i class="a"></i></span><span class="dd">&lt;<i class="a"></i></span><span class="n">10</span></span><span class="t">then</span><i class="nd"></i><i class="nt"></i></div><div class="ss"><div class="b cv"><div class="r"><span class="t m">set</span><span class="dd">tmpText<i class="a"></i></span><span class="t">to</span><span class="v ct" style="padding:0 3.57px 0 10.7px"><span class="t">substring of</span><span class="g">tmpText<i class="a"></i></span><span class="t">from</span><span class="n">0</span><span class="t">of length</span><span class="n">1</span></span></div></div></div><div class="r e"><span class="t">else</span><i class="nd"></i><i class="nt"></i></div><div class="ss"><div class="c cg nx"><div class="r"><span class="t m">if</span><span class="h cg" style="--h:42.8px;padding:0 17.83px 0 21.4px"><span class="g">pct<i class="a"></i></span><span class="dd">=<i class="a"></i></span><span class="n">100</span></span><span class="t">then</span><i class="nd"></i><i class="nt"></i></div><div class="ss"><div class="b cv"><div class="r"><span class="t m">set</span><span class="dd">tmpText<i class="a"></i></span><span class="t">to</span><span class="v ct" style="padding:0 3.57px 0 10.7px"><span class="t">substring of</span><span class="g">tmpText<i class="a"></i></span><span class="t">from</span><span class="n">0</span><span class="t">of length</span><span class="n">3</span></span></div></div></div><div class="r f"><i class="pl"></i></div></div><div class="b cv"><div class="r"><span class="t m">set</span><span class="dd">tmpText<i class="a"></i></span><span class="t">to</span><span class="v ct" style="padding:0 3.57px 0 10.7px"><span class="t">substring of</span><span class="g">tmpText<i class="a"></i></span><span class="t">from</span><span class="n">0</span><span class="t">of length</span><span class="n">2</span></span></div></div></div><div class="r f"><i class="pl"></i></div></div><div class="b cb"><div class="r"><span class="t m">print</span><span class="v ct" style="padding:0 3.57px 0 10.7px"><span class="t">join</span><span class="q"><i>"</i><b> </b><i>"</i></span><span class="v ct" style="padding:0 3.57px 0 10.7px"><span class="t">join</span><span class="q"><i>"</i><b> </b><i>"</i></span><span class="g">tmpText<i class="a"></i></span><span class="q"><i>"</i><b>%  </b><i>"</i></span></span></span></div><div class="r"><span class="t m">of</span><span class="p"><svg class="cu klime"><use href="#cb"/></svg><i class="a"></i></span></div><div class="r"><span class="t m">at</span><span class="g">printPosition<i class="a"></i></span></div><div class="r"><span class="t m">along</span><span class="dd">South (positive Z)<i class="a"></i></span></div></div></div><div class="r f"></div></div></div>
<div class="st" style="left:2329.6px;top:121.6px"><div class="c cb hat"><div class="r"><span class="t">on</span><span class="p"><svg class="cu kwglass"><use href="#cb"/></svg><i class="a"></i></span><span class="t">broken</span><i class="nd"></i><i class="nt"></i></div><div class="ss"><div class="b cf"><div class="r"><span class="t m">call function</span><span class="dd">doBrokenEvent<i class="a"></i></span></div></div></div><div class="r f"></div></div></div>
<div class="st" style="left:2330.4px;top:245px"><div class="c cb hat"><div class="r"><span class="t">on</span><span class="p"><svg class="cu krglass"><use href="#cb"/></svg><i class="a"></i></span><span class="t">broken</span><i class="nd"></i><i class="nt"></i></div><div class="ss"><div class="b cf"><div class="r"><span class="t m">call function</span><span class="dd">doBrokenEvent<i class="a"></i></span></div></div></div><div class="r f"></div></div></div>
<div class="st" style="left:2610.6px;top:123.6px"><div class="c cb hat"><div class="r"><span class="t">on</span><span class="p"><svg class="cu klglass"><use href="#cb"/></svg><i class="a"></i></span><span class="t">broken</span><i class="nd"></i><i class="nt"></i></div><div class="ss"><div class="b cf"><div class="r"><span class="t m">call function</span><span class="dd">doBrokenEvent<i class="a"></i></span></div></div></div><div class="r f"></div></div></div>
<div class="st" style="left:2611.4px;top:246.6px"><div class="c cb hat"><div class="r"><span class="t">on</span><span class="p"><svg class="cu kbgglass"><use href="#cb"/></svg><i class="a"></i></span><span class="t">broken</span><i class="nd"></i><i class="nt"></i></div><div class="ss"><div class="b cf"><div class="r"><span class="t m">call function</span><span class="dd">doBrokenEvent<i class="a"></i></span></div></div></div><div class="r f"></div></div></div>
<div class="st" style="left:2373.7px;top:406.6px"><div class="c cf hat fn"><div class="r fnr"><span class="t">function</span><span class="fx">doBrokenEvent</span><i class="nd"></i><i class="nt"></i></div><div class="ss"><div class="c cg nx"><div class="r"><span class="t m">if</span><span class="h cg" style="--h:42.8px;padding:0 21.4px 0 21.4px"><span class="g">answerPosition<i class="a"></i></span><span class="dd">≠<i class="a"></i></span><span class="v nl">null</span></span><span class="t">then</span><i class="nd"></i><i class="nt"></i></div><div class="ss"><div class="c cg nx"><div class="r"><span class="t m">if</span><span class="h cb" style="--h:48.03px;padding:0 21.4px 0 17.83px"><span class="t">test for</span><span class="p"><svg class="cu kmint"><use href="#cb"/></svg><i class="a"></i></span><span class="t">at</span><span class="g">answerPosition<i class="a"></i></span></span><span class="t">then</span><i class="nd"></i><i class="nt"></i></div><div class="ss"><div class="b cv"><div class="r"><span class="t m">change</span><span class="dd">nRight<i class="a"></i></span><span class="t">by</span><span class="n">1</span></div></div><div class="b cb"><div class="r"><span class="t m">place</span><span class="p"><svg class="cu klime"><use href="#cb"/></svg><i class="a"></i></span><span class="t">at</span><span class="pa co" style="padding:3.57px 22.81px"><span class="pr"><span class="g">answerPosition<i class="a"></i></span></span><span class="pr"><span class="t">+</span><span class="v co" style="padding:0 3.57px 0 10.7px"><span class="t">world</span><span class="n">0</span><span class="n">-1</span><span class="n">0</span></span></span></span></div></div><div class="b cb"><div class="r"><span class="t m">place</span><span class="p"><svg class="cu klglass"><use href="#cb"/></svg><i class="a"></i></span><span class="t">at</span><span class="g">answerPosition<i class="a"></i></span></div></div></div><div class="r e"><span class="t">else</span><i class="nd"></i><i class="nt"></i></div><div class="ss"><div class="b cv"><div class="r"><span class="t m">change</span><span class="dd">nWrong<i class="a"></i></span><span class="t">by</span><span class="n">1</span></div></div><div class="c cl do nx"><div class="r"><span class="t m">repeat</span><span class="n">3</span><span class="t">times</span><i class="nd"></i><i class="nt"></i></div><div class="ss"><span class="dl">do</span><div class="b cb"><div class="r"><span class="t m">place</span><span class="p"><svg class="cu klglass"><use href="#cb"/></svg><i class="a"></i></span><span class="t">at</span><span class="pa co" style="padding:3.57px 22.81px"><span class="pr"><span class="g">answerPosition<i class="a"></i></span></span><span class="pr"><span class="t">+</span><span class="v co" style="padding:0 3.57px 0 10.7px"><span class="t">world</span><span class="n">0</span><span class="n">1</span><span class="n">0</span></span></span></span></div></div><div class="b cl"><div class="r"><span class="t m">pause (ms)</span><span class="n">50</span></div></div><div class="b cb"><div class="r"><span class="t m">place</span><span class="p"><svg class="cu kmint"><use href="#cb"/></svg><i class="a"></i></span><span class="t">at</span><span class="pa co" style="padding:3.57px 22.81px"><span class="pr"><span class="g">answerPosition<i class="a"></i></span></span><span class="pr"><span class="t">+</span><span class="v co" style="padding:0 3.57px 0 10.7px"><span class="t">world</span><span class="n">0</span><span class="n">1</span><span class="n">0</span></span></span></span></div></div><div class="b cl"><div class="r"><span class="t m">pause (ms)</span><span class="n">50</span></div></div></div><div class="r f"></div></div><div class="b cb"><div class="r"><span class="t m">place</span><span class="p"><svg class="cu krglass"><use href="#cb"/></svg><i class="a"></i></span><span class="t">at</span><span class="g">answerPosition<i class="a"></i></span></div></div><div class="b cb"><div class="r"><span class="t m">place</span><span class="p"><svg class="cu kred"><use href="#cb"/></svg><i class="a"></i></span><span class="t">at</span><span class="pa co" style="padding:3.57px 22.81px"><span class="pr"><span class="g">answerPosition<i class="a"></i></span></span><span class="pr"><span class="t">+</span><span class="v co" style="padding:0 3.57px 0 10.7px"><span class="t">world</span><span class="n">0</span><span class="n">-1</span><span class="n">0</span></span></span></span></div></div><div class="b cb"><div class="r"><i class="cmt"></i><span class="t">place</span><span class="p"><svg class="cu kmint"><use href="#cb"/></svg><i class="a"></i></span><span class="t">at</span><span class="pa co" style="padding:3.57px 22.81px"><span class="pr"><span class="g">answerPosition<i class="a"></i></span></span><span class="pr"><span class="t">+</span><span class="v co" style="padding:0 3.57px 0 10.7px"><span class="t">world</span><span class="n">0</span><span class="n">1</span><span class="n">0</span></span></span></span></div></div></div><div class="r f"><i class="pl"></i></div></div><div class="b cp"><div class="r"><span class="t m">run chat command</span><span class="q"><i>"</i><b>postNewCoordinate</b><i>"</i></span></div></div></div><div class="r e"><span class="t">else</span><i class="nd"></i><i class="nt"></i></div><div class="ss"><div class="b cp"><div class="r"><span class="t m">say</span><span class="q"><i>"</i><b>answerPosition is null</b><i>"</i></span></div></div></div><div class="r f"><i class="pl"></i></div></div></div><div class="r f"></div></div></div>
<div class="st" style="left:2931.6px;top:119.2px"><div class="c cl hat"><div class="r"><span class="t">forever</span><i class="nd"></i><i class="nt"></i></div><div class="ss"><div class="c cg nx"><div class="r"><span class="t m">if</span><span class="g">b_doFill<i class="a"></i></span><span class="t">then</span><i class="nd"></i><i class="nt"></i></div><div class="ss"><div class="b cv"><div class="r"><span class="t m">set</span><span class="dd">fill_X<i class="a"></i></span><span class="t">to</span><span class="n">-5</span></div></div><div class="c cl do nx"><div class="r"><span class="t m">while</span><span class="h cg" style="--h:42.8px;padding:0 17.83px 0 21.4px"><span class="g">fill_X<i class="a"></i></span><span class="dd">≤<i class="a"></i></span><span class="n">5</span></span><i class="nd"></i><i class="nt"></i></div><div class="ss"><span class="dl">do</span><div class="b cv"><div class="r"><span class="t m">set</span><span class="dd">fill_Z<i class="a"></i></span><span class="t">to</span><span class="n">-5</span></div></div><div class="c cl do nx"><div class="r"><span class="t m">while</span><span class="h cg" style="--h:42.8px;padding:0 17.83px 0 21.4px"><span class="g">fill_Z<i class="a"></i></span><span class="dd">≤<i class="a"></i></span><span class="n">5</span></span><i class="nd"></i><i class="nt"></i></div><div class="ss"><span class="dl">do</span><div class="b cv"><div class="r"><span class="t m">set</span><span class="dd">fillPosition<i class="a"></i></span><span class="t">to</span><span class="pa co" style="padding:3.57px 24.71px"><span class="pr"><span class="g">origin<i class="a"></i></span></span><span class="pr"><span class="t">+</span><span class="v co" style="padding:0 3.57px 0 10.7px"><span class="t">world</span><span class="g">fill_X<i class="a"></i></span><span class="n">0</span><span class="g">fill_Z<i class="a"></i></span></span></span></span></div></div><div class="c cg nx"><div class="r ns"><span class="t m">if</span><span class="h cb" style="--h:92.73px;padding:0 46.37px 0 17.83px"><span class="t">test for</span><span class="p"><svg class="cu klime"><use href="#cb"/></svg><i class="a"></i></span><span class="t">at</span><span class="pa co" style="padding:3.57px 22.81px"><span class="pr"><span class="g">fillPosition<i class="a"></i></span></span><span class="pr"><span class="t">+</span><span class="v co" style="padding:0 3.57px 0 10.7px"><span class="t">world</span><span class="n">0</span><span class="n">-1</span><span class="n">0</span></span></span></span></span><span class="t">then</span><i class="nd"></i><i class="nt"></i></div><div class="ss"><div class="b cb"><div class="r"><span class="t m">place</span><span class="p"><svg class="cu klglass"><use href="#cb"/></svg><i class="a"></i></span><span class="t">at</span><span class="g">fillPosition<i class="a"></i></span></div></div></div><div class="r ei"><span class="t">else if</span><span class="h cb" style="--h:92.73px;padding:0 46.37px 0 17.83px"><span class="t">test for</span><span class="p"><svg class="cu kred"><use href="#cb"/></svg><i class="a"></i></span><span class="t">at</span><span class="pa co" style="padding:3.57px 22.81px"><span class="pr"><span class="g">fillPosition<i class="a"></i></span></span><span class="pr"><span class="t">+</span><span class="v co" style="padding:0 3.57px 0 10.7px"><span class="t">world</span><span class="n">0</span><span class="n">-1</span><span class="n">0</span></span></span></span></span><span class="t">then</span><i class="pl mi"></i><i class="nd"></i><i class="nt"></i></div><div class="ss"><div class="b cb"><div class="r"><span class="t m">place</span><span class="p"><svg class="cu krglass"><use href="#cb"/></svg><i class="a"></i></span><span class="t">at</span><span class="g">fillPosition<i class="a"></i></span></div></div></div><div class="r ei"><span class="t">else if</span><span class="h cb" style="--h:92.73px;padding:0 46.37px 0 17.83px"><span class="t">test for</span><span class="p"><svg class="cu kcyan"><use href="#cb"/></svg><i class="a"></i></span><span class="t">at</span><span class="pa co" style="padding:3.57px 22.81px"><span class="pr"><span class="g">fillPosition<i class="a"></i></span></span><span class="pr"><span class="t">+</span><span class="v co" style="padding:0 3.57px 0 10.7px"><span class="t">world</span><span class="n">0</span><span class="n">-1</span><span class="n">0</span></span></span></span></span><span class="t">then</span><i class="pl mi"></i><i class="nd"></i><i class="nt"></i></div><div class="ss"><div class="b cb"><div class="r"><span class="t m">place</span><span class="p"><svg class="cu kbgglass"><use href="#cb"/></svg><i class="a"></i></span><span class="t">at</span><span class="g">fillPosition<i class="a"></i></span></div></div></div><div class="r ei"><span class="t">else if</span><span class="h cb" style="--h:92.73px;padding:0 46.37px 0 17.83px"><span class="t">test for</span><span class="p"><svg class="cu kwhite"><use href="#cb"/></svg><i class="a"></i></span><span class="t">at</span><span class="pa co" style="padding:3.57px 22.81px"><span class="pr"><span class="g">fillPosition<i class="a"></i></span></span><span class="pr"><span class="t">+</span><span class="v co" style="padding:0 3.57px 0 10.7px"><span class="t">world</span><span class="n">0</span><span class="n">-1</span><span class="n">0</span></span></span></span></span><span class="t">then</span><i class="pl mi"></i><i class="nd"></i><i class="nt"></i></div><div class="ss"><div class="b cb"><div class="r"><span class="t m">place</span><span class="p"><svg class="cu kwglass"><use href="#cb"/></svg><i class="a"></i></span><span class="t">at</span><span class="g">fillPosition<i class="a"></i></span></div></div></div><div class="r e"><span class="t">else</span><i class="nd"></i><i class="nt"></i></div><div class="ss"><div class="b cp"><div class="r"><span class="t m">say</span><span class="q"><i>"</i><b>under block not recognized</b><i>"</i></span></div></div><div class="b cb"><div class="r"><span class="t m">place</span><span class="p"><svg class="cu" viewBox="0 0 32 32"><path d="M16 0 30 7.5 16 15 2 7.5z" fill="#c8432e"/><path d="M2 7.5 16 15v17L2 24.5z" fill="#b8301f"/><path d="M30 7.5 16 15v17l14-7.5z" fill="#8e2417"/><path d="M2 13.5 16 21 30 13.5v6L16 27 2 19.5z" fill="#e9e4dc"/><path d="M9 5.5 16 2l7 3.5L16 9z" fill="#3a2a26"/><path d="M4 16.5l9 4.8M19 21.3l9-4.8" stroke="#222" stroke-width="2.4"/></svg><i class="a"></i></span><span class="t">at</span><span class="g">fillPosition<i class="a"></i></span></div></div></div><div class="r f"><i class="pl"></i></div></div><div class="b cv"><div class="r"><span class="t m">change</span><span class="dd">fill_Z<i class="a"></i></span><span class="t">by</span><span class="n">1</span></div></div></div><div class="r f"></div></div><div class="b cv"><div class="r"><span class="t m">change</span><span class="dd">fill_X<i class="a"></i></span><span class="t">by</span><span class="n">1</span></div></div></div><div class="r f"></div></div></div><div class="r f"><i class="pl"></i></div></div><div class="c cg nx"><div class="r"><span class="t m">if</span><span class="h cg" style="--h:42.8px;padding:0 21.4px 0 21.4px"><span class="g">origin<i class="a"></i></span><span class="dd">≠<i class="a"></i></span><span class="v nl">null</span></span><span class="t">then</span><i class="nd"></i><i class="nt"></i></div><div class="ss"><div class="b cb"><div class="r"><span class="t m">place</span><span class="p"><svg class="cu kbgglass"><use href="#cb"/></svg><i class="a"></i></span><span class="t">at</span><span class="g">origin<i class="a"></i></span></div></div><div class="b cb"><div class="r"><span class="t m">place</span><span class="p"><svg class="cu kcyan"><use href="#cb"/></svg><i class="a"></i></span><span class="t">at</span><span class="pa co" style="padding:3.57px 22.81px"><span class="pr"><span class="g">origin<i class="a"></i></span></span><span class="pr"><span class="t">+</span><span class="v co" style="padding:0 3.57px 0 10.7px"><span class="t">world</span><span class="n">0</span><span class="n">-1</span><span class="n">0</span></span></span></span></div></div></div><div class="r f"><i class="pl"></i></div></div></div><div class="r f"></div></div></div>
<div class="st" style="left:2965.6px;top:1683.3px"><div class="c cf hat fn"><div class="r fnr"><span class="t">function</span><span class="fx">doRepairs</span><i class="nd"></i><i class="nt"></i></div><div class="ss"><div class="b cb"><div class="r"><span class="t m">place</span><span class="p"><svg class="cu kbgglass"><use href="#cb"/></svg><i class="a"></i></span><span class="t">at</span><span class="g">origin<i class="a"></i></span></div></div><div class="b cb"><div class="r"><span class="t m">place</span><span class="p"><svg class="cu kcyan"><use href="#cb"/></svg><i class="a"></i></span><span class="t">at</span><span class="pa co" style="padding:3.57px 22.81px"><span class="pr"><span class="g">origin<i class="a"></i></span></span><span class="pr"><span class="t">+</span><span class="v co" style="padding:0 3.57px 0 10.7px"><span class="t">world</span><span class="n">0</span><span class="n">-1</span><span class="n">0</span></span></span></span></div></div><div class="b cb"><div class="r"><span class="t m">place</span><span class="p"><svg class="cu kmint"><use href="#cb"/></svg><i class="a"></i></span><span class="t">at</span><span class="pa co" style="padding:3.57px 22.81px"><span class="pr"><span class="g">prior_answerPosition<i class="a"></i></span></span><span class="pr"><span class="t">+</span><span class="v co" style="padding:0 3.57px 0 10.7px"><span class="t">world</span><span class="n">0</span><span class="n">1</span><span class="n">0</span></span></span></span></div></div><div class="b cv"><div class="r"><span class="t m">set</span><span class="dd">prior_answerPosition<i class="a"></i></span><span class="t">to</span><span class="g go">answerPosition<i class="a"></i></span></div></div></div><div class="r f"></div></div></div>
<div class="st" style="left:3417.2px;top:127.3px"><div class="c cb hat"><div class="r"><span class="t">on</span><span class="p"><svg class="cu" viewBox="0 0 32 32"><path d="M16 0 30 7.5 16 15 2 7.5z" fill="#5b7f38"/><path d="M2 7.5 16 15v17L2 24.5z" fill="#87593b"/><path d="M30 7.5 16 15v17l14-7.5z" fill="#74492f"/><path d="M2 7.5 16 15v3.5L2 11z" fill="#557a35"/><path d="M30 7.5 16 15v3.5L30 11z" fill="#48692d"/></svg><i class="a"></i></span><span class="t">broken</span><i class="nd"></i><i class="nt"></i></div><div class="ss"><div class="b cp"><div class="r"><span class="t m">run chat command</span><span class="q"><i>"</i><b>replaceGrass</b><i>"</i></span></div></div></div><div class="r f"></div></div></div>
<div class="st" style="left:3759.1px;top:124.6px"><div class="c cb hat"><div class="r"><span class="t">on</span><span class="p"><svg class="cu" viewBox="0 0 32 32"><path d="M16 14 30 21 16 28 2 21z" fill="#f4f4f4"/><path d="M2 21 16 28 30 21v1.6L16 29.6 2 22.6z" fill="#c9c9c9"/></svg><i class="a"></i></span><span class="t">broken</span><i class="nd"></i><i class="nt"></i></div><div class="ss"><div class="b cp"><div class="r"><span class="t m">run chat command</span><span class="q"><i>"</i><b>doAxesMarkers</b><i>"</i></span></div></div></div><div class="r f"></div></div></div>
<div class="st" style="left:3703.2px;top:262.6px"><div class="c cp hat"><div class="r"><span class="t">on chat command</span><span class="q"><i>"</i><b>replaceGrass</b><i>"</i></span><i class="pl"></i><i class="nd"></i><i class="nt"></i></div><div class="ss"><div class="b cb"><div class="r"><span class="t m">fill with</span><span class="p"><svg class="cu" viewBox="0 0 32 32"><path d="M16 0 30 7.5 16 15 2 7.5z" fill="#5b7f38"/><path d="M2 7.5 16 15v17L2 24.5z" fill="#87593b"/><path d="M30 7.5 16 15v17l14-7.5z" fill="#74492f"/><path d="M2 7.5 16 15v3.5L2 11z" fill="#557a35"/><path d="M30 7.5 16 15v3.5L30 11z" fill="#48692d"/></svg><i class="a"></i></span></div><div class="r"><span class="t m">from</span><span class="pa co" style="padding:3.57px 22.81px"><span class="pr"><span class="g">origin<i class="a"></i></span></span><span class="pr"><span class="t">+</span><span class="v co" style="padding:0 3.57px 0 10.7px"><span class="t">world</span><span class="n">-6</span><span class="n">0</span><span class="n">-6</span></span></span></span></div><div class="r"><span class="t m">to</span><span class="pa co" style="padding:3.57px 22.81px"><span class="pr"><span class="g">origin<i class="a"></i></span></span><span class="pr"><span class="t">+</span><span class="v co" style="padding:0 3.57px 0 10.7px"><span class="t">world</span><span class="n">6</span><span class="n">0</span><span class="n">-6</span></span></span></span></div><div class="r"><span class="dd">replace<i class="a"></i></span></div></div><div class="b cb"><div class="r"><span class="t m">fill with</span><span class="p"><svg class="cu" viewBox="0 0 32 32"><path d="M16 0 30 7.5 16 15 2 7.5z" fill="#5b7f38"/><path d="M2 7.5 16 15v17L2 24.5z" fill="#87593b"/><path d="M30 7.5 16 15v17l14-7.5z" fill="#74492f"/><path d="M2 7.5 16 15v3.5L2 11z" fill="#557a35"/><path d="M30 7.5 16 15v3.5L30 11z" fill="#48692d"/></svg><i class="a"></i></span></div><div class="r"><span class="t m">from</span><span class="pa co" style="padding:3.57px 22.81px"><span class="pr"><span class="g">origin<i class="a"></i></span></span><span class="pr"><span class="t">+</span><span class="v co" style="padding:0 3.57px 0 10.7px"><span class="t">world</span><span class="n">-6</span><span class="n">0</span><span class="n">6</span></span></span></span></div><div class="r"><span class="t m">to</span><span class="pa co" style="padding:3.57px 22.81px"><span class="pr"><span class="g">origin<i class="a"></i></span></span><span class="pr"><span class="t">+</span><span class="v co" style="padding:0 3.57px 0 10.7px"><span class="t">world</span><span class="n">6</span><span class="n">0</span><span class="n">6</span></span></span></span></div><div class="r"><span class="dd">replace<i class="a"></i></span></div></div><div class="b cb"><div class="r"><span class="t m">fill with</span><span class="p"><svg class="cu" viewBox="0 0 32 32"><path d="M16 0 30 7.5 16 15 2 7.5z" fill="#5b7f38"/><path d="M2 7.5 16 15v17L2 24.5z" fill="#87593b"/><path d="M30 7.5 16 15v17l14-7.5z" fill="#74492f"/><path d="M2 7.5 16 15v3.5L2 11z" fill="#557a35"/><path d="M30 7.5 16 15v3.5L30 11z" fill="#48692d"/></svg><i class="a"></i></span></div><div class="r"><span class="t m">from</span><span class="pa co" style="padding:3.57px 22.81px"><span class="pr"><span class="g">origin<i class="a"></i></span></span><span class="pr"><span class="t">+</span><span class="v co" style="padding:0 3.57px 0 10.7px"><span class="t">world</span><span class="n">-6</span><span class="n">0</span><span class="n">-6</span></span></span></span></div><div class="r"><span class="t m">to</span><span class="pa co" style="padding:3.57px 22.81px"><span class="pr"><span class="g">origin<i class="a"></i></span></span><span class="pr"><span class="t">+</span><span class="v co" style="padding:0 3.57px 0 10.7px"><span class="t">world</span><span class="n">-6</span><span class="n">0</span><span class="n">6</span></span></span></span></div><div class="r"><span class="dd">replace<i class="a"></i></span></div></div><div class="b cb"><div class="r"><span class="t m">fill with</span><span class="p"><svg class="cu" viewBox="0 0 32 32"><path d="M16 0 30 7.5 16 15 2 7.5z" fill="#5b7f38"/><path d="M2 7.5 16 15v17L2 24.5z" fill="#87593b"/><path d="M30 7.5 16 15v17l14-7.5z" fill="#74492f"/><path d="M2 7.5 16 15v3.5L2 11z" fill="#557a35"/><path d="M30 7.5 16 15v3.5L30 11z" fill="#48692d"/></svg><i class="a"></i></span></div><div class="r"><span class="t m">from</span><span class="pa co" style="padding:3.57px 22.81px"><span class="pr"><span class="g">origin<i class="a"></i></span></span><span class="pr"><span class="t">+</span><span class="v co" style="padding:0 3.57px 0 10.7px"><span class="t">world</span><span class="n">6</span><span class="n">0</span><span class="n">-6</span></span></span></span></div><div class="r"><span class="t m">to</span><span class="pa co" style="padding:3.57px 22.81px"><span class="pr"><span class="g">origin<i class="a"></i></span></span><span class="pr"><span class="t">+</span><span class="v co" style="padding:0 3.57px 0 10.7px"><span class="t">world</span><span class="n">6</span><span class="n">0</span><span class="n">6</span></span></span></span></div><div class="r"><span class="dd">replace<i class="a"></i></span></div></div></div><div class="r f"></div></div></div>
<div class="st" style="left:3601px;top:1474.5px"><div class="c cp hat"><div class="r"><span class="t">on chat command</span><span class="q"><i>"</i><b>doAxesMarkers</b><i>"</i></span><i class="pl"></i><i class="nd"></i><i class="nt"></i></div><div class="ss"><div class="b cb"><div class="r"><span class="t m">place</span><span class="p"><svg class="cu" viewBox="0 0 32 32"><path d="M16 14 30 21 16 28 2 21z" fill="#f4f4f4"/><path d="M2 21 16 28 30 21v1.6L16 29.6 2 22.6z" fill="#c9c9c9"/></svg><i class="a"></i></span><span class="t">at</span><span class="pa co" style="padding:3.57px 22.81px"><span class="pr"><span class="g">origin<i class="a"></i></span></span><span class="pr"><span class="t">+</span><span class="v co" style="padding:0 3.57px 0 10.7px"><span class="t">world</span><span class="n">6</span><span class="n">1</span><span class="n">0</span></span></span></span></div></div><div class="b cb"><div class="r"><span class="t m">place</span><span class="p"><svg class="cu" viewBox="0 0 32 32"><path d="M16 14 30 21 16 28 2 21z" fill="#f4f4f4"/><path d="M2 21 16 28 30 21v1.6L16 29.6 2 22.6z" fill="#c9c9c9"/></svg><i class="a"></i></span><span class="t">at</span><span class="pa co" style="padding:3.57px 22.81px"><span class="pr"><span class="g">origin<i class="a"></i></span></span><span class="pr"><span class="t">+</span><span class="v co" style="padding:0 3.57px 0 10.7px"><span class="t">world</span><span class="n">0</span><span class="n">1</span><span class="n">-6</span></span></span></span></div></div><div class="b cb"><div class="r"><span class="t m">place</span><span class="p"><svg class="cu" viewBox="0 0 32 32"><path d="M16 14 30 21 16 28 2 21z" fill="#f4f4f4"/><path d="M2 21 16 28 30 21v1.6L16 29.6 2 22.6z" fill="#c9c9c9"/></svg><i class="a"></i></span><span class="t">at</span><span class="pa co" style="padding:3.57px 22.81px"><span class="pr"><span class="g">origin<i class="a"></i></span></span><span class="pr"><span class="t">+</span><span class="v co" style="padding:0 3.57px 0 10.7px"><span class="t">world</span><span class="n">-6</span><span class="n">1</span><span class="n">0</span></span></span></span></div></div><div class="b cb"><div class="r"><span class="t m">place</span><span class="p"><svg class="cu" viewBox="0 0 32 32"><path d="M16 14 30 21 16 28 2 21z" fill="#f4f4f4"/><path d="M2 21 16 28 30 21v1.6L16 29.6 2 22.6z" fill="#c9c9c9"/></svg><i class="a"></i></span><span class="t">at</span><span class="pa co" style="padding:3.57px 22.81px"><span class="pr"><span class="g">origin<i class="a"></i></span></span><span class="pr"><span class="t">+</span><span class="v co" style="padding:0 3.57px 0 10.7px"><span class="t">world</span><span class="n">0</span><span class="n">1</span><span class="n">6</span></span></span></span></div></div></div><div class="r f"></div></div></div>
<div id="sb"></div></div></body></html>
